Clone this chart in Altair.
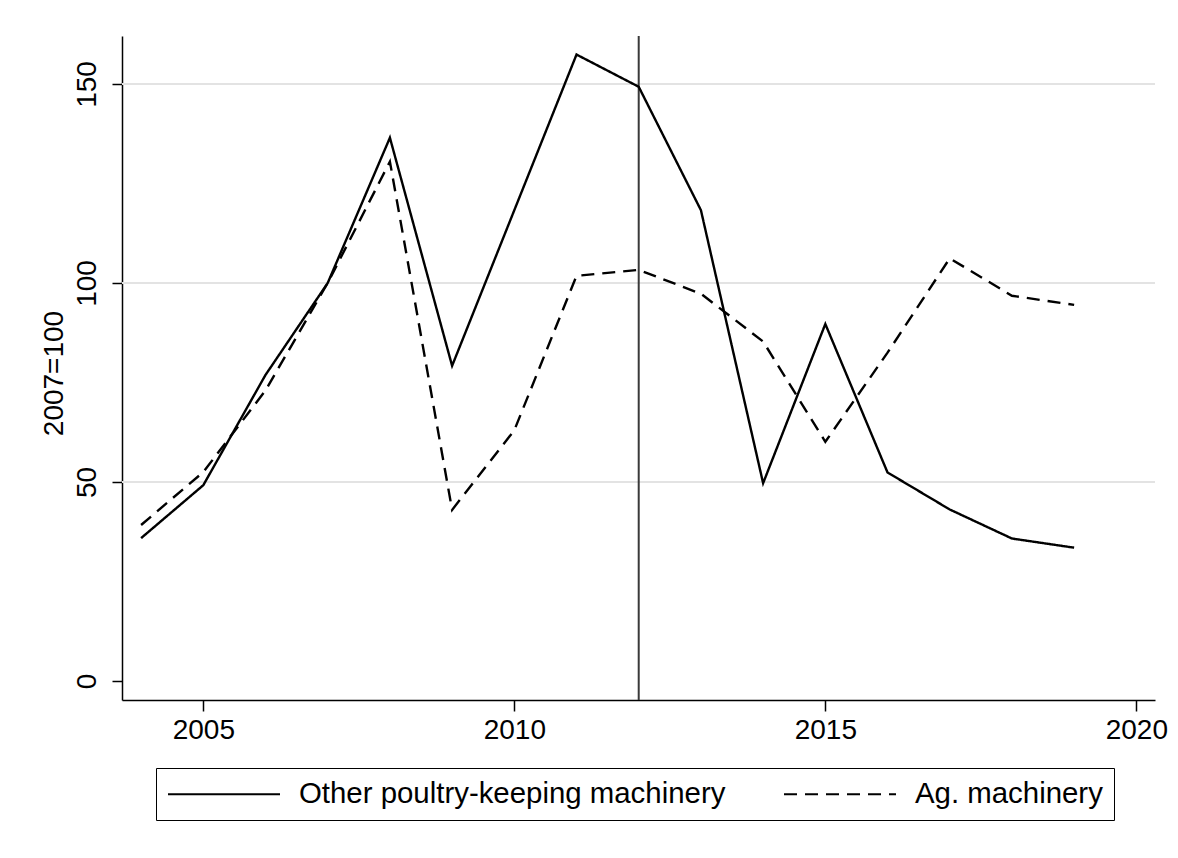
import altair as alt
import pandas as pd

years = list(range(2004, 2020))
poultry = [35.9, 49.2, 76.9, 100.0, 136.5, 79.2, 118.3, 157.4, 149.3, 118.3, 49.7, 89.7, 52.4, 43.1, 35.8, 33.5]
ag = [39.2, 52.5, 73.0, 100.0, 130.5, 43.0, 63.0, 101.8, 103.3, 97.3, 85.3, 60.1, 82.5, 106.2, 96.8, 94.5]
series_names = ["Other poultry-keeping machinery", "Ag. machinery"]
grid_values = [50, 100, 150]
y_ticks = [0, 50, 100, 150]
x_ticks = [2005, 2010, 2015, 2020]
event_year = [2012]

rows = []
for name, vals in zip(series_names, [poultry, ag]):
    for yr, v in zip(years, vals):
        rows.append({"year": yr, "value": v, "series": name})
df = pd.DataFrame(rows)
grid_df = pd.DataFrame({"v": grid_values})
event_df = pd.DataFrame({"yr": event_year})

FONT = "Liberation Sans"
W, H = 1033, 664

xscale = alt.Scale(domain=[2003.693, 2020.30], nice=False, zero=False)
yscale = alt.Scale(domain=[-4.77, 162.06], nice=False, zero=False)

xaxis = alt.Axis(values=x_ticks, format="d", title=None, grid=False,
                 labelFont=FONT, labelFontSize=28, labelColor="black",
                 tickSize=11, tickColor="black", tickWidth=1.5,
                 domainColor="black", domainWidth=1.5, labelPadding=5,
                 labelFlush=False, labelOverlap=False)
yaxis = alt.Axis(values=y_ticks, title="2007=100", grid=False,
                 labelFont=FONT, labelFontSize=28, labelColor="black",
                 labelAngle=270, labelAlign="center", labelBaseline="alphabetic",
                 labelPadding=17, tickSize=10, tickColor="black", tickWidth=1.5,
                 domainColor="black", domainWidth=1.5,
                 titleFont=FONT, titleFontSize=28, titleFontWeight="normal",
                 titleColor="black", titleAngle=270, titleAlign="center",
                 titleBaseline="alphabetic", titleX=-60, titleY=H / 2 + 5,
                 labelFlush=False, labelOverlap=False)

grid = alt.Chart(grid_df).mark_rule(color="#e3e3e3", strokeWidth=2).encode(
    y=alt.Y("v:Q", scale=yscale, axis=yaxis)
)

vline = alt.Chart(event_df).mark_rule(color="#3a3a3a", strokeWidth=2).encode(
    x=alt.X("yr:Q", scale=xscale, axis=xaxis)
)

lines = alt.Chart(df).mark_line(color="black", strokeWidth=2.4).encode(
    x=alt.X("year:Q", scale=xscale, axis=xaxis),
    y=alt.Y("value:Q", scale=yscale, axis=yaxis),
    strokeDash=alt.StrokeDash(
        "series:N",
        scale=alt.Scale(domain=series_names, range=[[1, 0], [13, 8]]),
        sort=series_names,
        legend=alt.Legend(
            title=None, orient="none", legendX=34, legendY=732,
            direction="horizontal", symbolType="M-1,0H7", symbolSize=784,
            symbolStrokeWidth=2, symbolStrokeColor="black",
            symbolFillColor="transparent",
            labelFont=FONT, labelFontSize=29.4, labelColor="black",
            labelOffset=102, columnPadding=54, padding=11,
            strokeColor="black", fillColor="white", labelLimit=0,
        ),
    ),
    detail="series:N",
)

chart = alt.layer(grid, vline, lines, view=alt.ViewBackground(stroke="transparent", strokeWidth=0)).properties(
    width=W, height=H,
    autosize=alt.AutoSizeParams(type="none"),
    padding={"left": 114, "top": 28, "right": 15, "bottom": 140},
).configure_view(stroke="transparent", strokeWidth=0).configure(background="white")

chart.save("out.html", embed_options={"renderer": "svg", "actions": False})
